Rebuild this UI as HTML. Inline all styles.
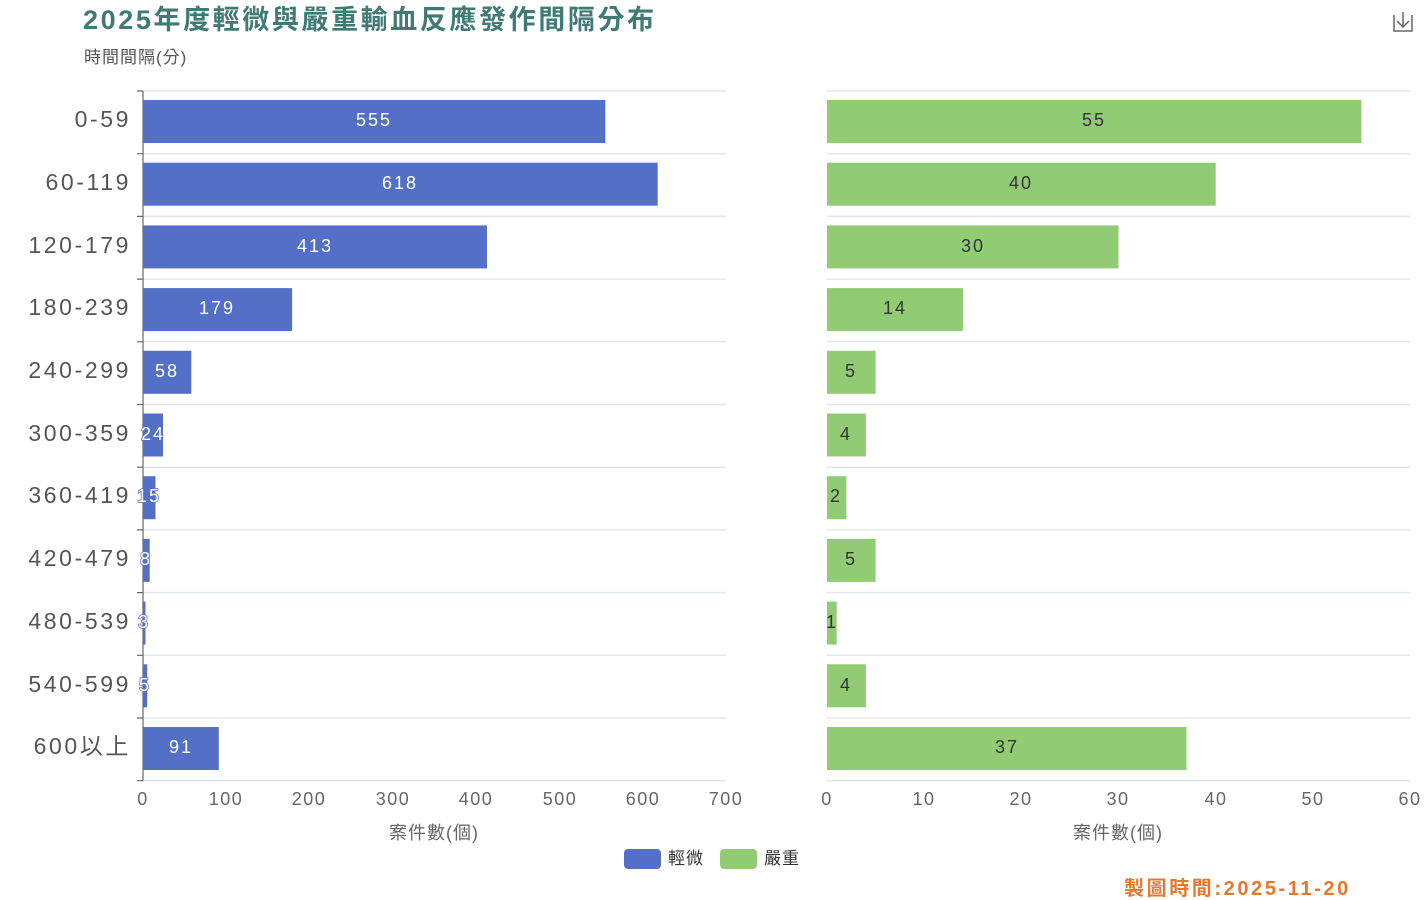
<!DOCTYPE html>
<html><head><meta charset="utf-8"><style>
html,body{margin:0;padding:0;background:#fff;}
svg{display:block;font-family:"Liberation Sans","Noto Sans CJK TC",sans-serif;}
.cat{font-size:23px;fill:#555;text-anchor:end;letter-spacing:2.6px}
.tk{font-size:18px;fill:#666;text-anchor:middle;letter-spacing:1.5px}
.lw{font-size:18px;fill:#fff;text-anchor:middle;letter-spacing:2px}
.ld{font-size:18px;fill:#333;text-anchor:middle;letter-spacing:2px}
.g{stroke:#e3e6ee;stroke-width:1.5}
</style></head><body>
<svg width="1425" height="900" viewBox="0 0 1425 900">
<text x="83" y="29" font-size="27" font-weight="bold" fill="#3f7a74" letter-spacing="2.6">2025年度輕微與嚴重輸血反應發作間隔分布</text>
<text x="84" y="63" font-size="17" fill="#555" letter-spacing="1">時間間隔(分)</text>
<g fill="none" stroke="#666" stroke-width="1.5"><path d="M1394 15v16h18v-16M1403 12v15M1397 21l6 6 6-6"/></g>
<g class="g">
<path d="M143 91H726M143 153.7H726M143 216.4H726M143 279.1H726M143 341.8H726M143 404.5H726M143 467.2H726M143 529.9H726M143 592.6H726M143 655.3H726M143 718H726M143 780.7H726"/>
<path d="M827 91H1410M827 153.7H1410M827 216.4H1410M827 279.1H1410M827 341.8H1410M827 404.5H1410M827 467.2H1410M827 529.9H1410M827 592.6H1410M827 655.3H1410M827 718H1410M827 780.7H1410"/>
</g>
<path d="M143 91V780.7M137 91H143M137 780.7H143" stroke="#666" stroke-width="1.2" fill="none"/>
<path d="M137 153.7H143M137 216.4H143M137 279.1H143M137 341.8H143M137 404.5H143M137 467.2H143M137 529.9H143M137 592.6H143M137 655.3H143M137 718H143" stroke="#666" stroke-width="1.2"/>
<text class="cat" x="131" y="127">0-59</text>
<text class="cat" x="131" y="190">60-119</text>
<text class="cat" x="131" y="253">120-179</text>
<text class="cat" x="131" y="315">180-239</text>
<text class="cat" x="131" y="378">240-299</text>
<text class="cat" x="131" y="441">300-359</text>
<text class="cat" x="131" y="503">360-419</text>
<text class="cat" x="131" y="566">420-479</text>
<text class="cat" x="131" y="629">480-539</text>
<text class="cat" x="131" y="692">540-599</text>
<text class="cat" x="131" y="754">600以上</text>
<g fill="#5470c6">
<rect x="143" y="100" width="462.3" height="43"/>
<rect x="143" y="162.7" width="514.7" height="43"/>
<rect x="143" y="225.4" width="344" height="43"/>
<rect x="143" y="288.1" width="149.1" height="43"/>
<rect x="143" y="350.8" width="48.3" height="43"/>
<rect x="143" y="413.5" width="20" height="43"/>
<rect x="143" y="476.2" width="12.5" height="43"/>
<rect x="143" y="538.9" width="6.7" height="43"/>
<rect x="143" y="601.6" width="2.5" height="43"/>
<rect x="143" y="664.3" width="4.2" height="43"/>
<rect x="143" y="727" width="75.8" height="43"/>
</g>
<g class="lw" stroke="#5470c6" stroke-width="1.5" paint-order="stroke">
<text x="374" y="126">555</text>
<text x="400" y="189">618</text>
<text x="315" y="252">413</text>
<text x="217" y="314">179</text>
<text x="167" y="377">58</text>
<text x="153" y="440">24</text>
<text x="149" y="502">15</text>
<text x="146" y="565">8</text>
<text x="144" y="628">3</text>
<text x="145" y="691">5</text>
<text x="181" y="753">91</text>
</g>
<g fill="#91cc75">
<rect x="827" y="100" width="534.4" height="43"/>
<rect x="827" y="162.7" width="388.7" height="43"/>
<rect x="827" y="225.4" width="291.5" height="43"/>
<rect x="827" y="288.1" width="136" height="43"/>
<rect x="827" y="350.8" width="48.6" height="43"/>
<rect x="827" y="413.5" width="38.9" height="43"/>
<rect x="827" y="476.2" width="19.4" height="43"/>
<rect x="827" y="538.9" width="48.6" height="43"/>
<rect x="827" y="601.6" width="9.7" height="43"/>
<rect x="827" y="664.3" width="38.9" height="43"/>
<rect x="827" y="727" width="359.5" height="43"/>
</g>
<g class="ld">
<text x="1094" y="126">55</text>
<text x="1021" y="189">40</text>
<text x="973" y="252">30</text>
<text x="895" y="314">14</text>
<text x="851" y="377">5</text>
<text x="846" y="440">4</text>
<text x="836" y="502">2</text>
<text x="851" y="565">5</text>
<text x="832" y="628">1</text>
<text x="846" y="691">4</text>
<text x="1007" y="753">37</text>
</g>
<g class="tk">
<text x="143" y="805">0</text><text x="226" y="805">100</text><text x="309" y="805">200</text><text x="393" y="805">300</text><text x="476" y="805">400</text><text x="560" y="805">500</text><text x="643" y="805">600</text><text x="726" y="805">700</text>
<text x="827" y="805">0</text><text x="924" y="805">10</text><text x="1021" y="805">20</text><text x="1118" y="805">30</text><text x="1216" y="805">40</text><text x="1313" y="805">50</text><text x="1410" y="805">60</text>
</g>
<text x="434" y="839" font-size="18" fill="#666" text-anchor="middle" letter-spacing="1">案件數(個)</text>
<text x="1118" y="839" font-size="18" fill="#666" text-anchor="middle" letter-spacing="1">案件數(個)</text>
<rect x="624" y="849" width="37" height="20" rx="4" fill="#5470c6"/>
<text x="668" y="864" font-size="17" fill="#333" letter-spacing="1">輕微</text>
<rect x="720" y="849" width="37" height="20" rx="4" fill="#91cc75"/>
<text x="764" y="864" font-size="17" fill="#333" letter-spacing="1">嚴重</text>
<text x="1124" y="895" font-size="20" font-weight="bold" fill="#e8772e" letter-spacing="2.6">製圖時間:2025-11-20</text>
</svg>
</body></html>
